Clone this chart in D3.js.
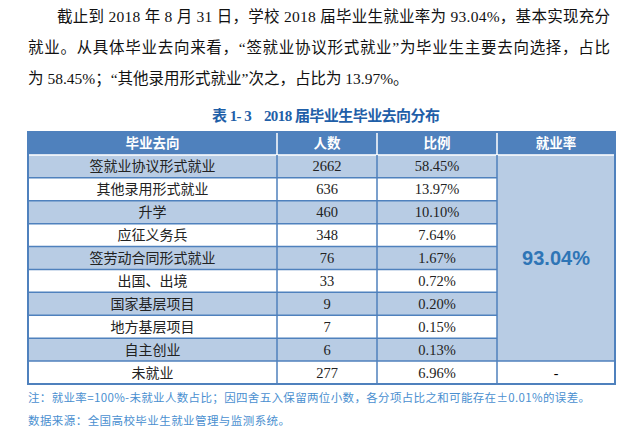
<!DOCTYPE html>
<html lang="zh">
<head>
<meta charset="UTF-8">
<style>
  body { margin: 0; background: #fff; }
  svg { display: block; }
</style>
</head>
<body>
<svg id="svg" width="637" height="434"></svg>
<script src="https://cdn.jsdelivr.net/npm/d3@7"></script>
<script>
const categories = ['签就业协议形式就业', '其他录用形式就业', '升学', '应征义务兵', '签劳动合同形式就业',
  '出国、出境', '国家基层项目', '地方基层项目', '自主创业', '未就业']
const counts = [2662, 636, 460, 348, 76, 33, 9, 7, 6, 277]
const shares = ['58.45%', '13.97%', '10.10%', '7.64%', '1.67%', '0.72%', '0.20%', '0.15%', '0.13%', '6.96%']
const headers = ['毕业去向', '人数', '比例', '就业率']
const employmentRate = '93.04%'

const paragraph = [
  { text: '截止到 2018 年 8 月 31 日，学校 2018 届毕业生就业率为 93.04%，基本实现充分', x: 57, w: 553 },
  { text: '就业。从具体毕业去向来看，“签就业协议形式就业”为毕业生主要去向选择，占比', x: 28, w: 582 },
  { text: '为 58.45%；“其他录用形式就业”次之，占比为 13.97%。', x: 28, w: null }
]

const svg = d3.select('#svg')
const serif = '"Liberation Serif", "Noto Sans CJK SC", serif'
const blue = '#4f81bd'
const light = '#b8cce4'

// intro paragraph
svg.selectAll('text.para').data(paragraph).join('text')
  .attr('class', 'para')
  .attr('x', d => d.x).attr('y', (d, i) => 22 + i * 31)
  .attr('font-family', serif).attr('font-size', 15.5).attr('fill', '#111')
  .attr('textLength', d => d.w).attr('lengthAdjust', 'spacing')
  .text(d => d.text)

svg.append('text').attr('x', 212).attr('y', 121)
  .style('white-space', 'pre')
  .attr('font-family', serif).attr('font-weight', 'bold').attr('font-size', 15)
  .attr('fill', '#1f5fa8').attr('textLength', 228).attr('lengthAdjust', 'spacing')
  .text('表 1- 3    2018 届毕业生毕业去向分布')

// table geometry via scales
const colEdges = [28, 277, 377, 497, 615]
const y = d3.scaleBand().domain(d3.range(categories.length + 1)).range([132, 384])
const rh = y.bandwidth()
const rowFill = i => (i % 2 === 0 && i < 9) ? light : '#fff'

// header
svg.append('rect').attr('x', 28).attr('y', y(0)).attr('width', 587).attr('height', rh).attr('fill', blue)
svg.selectAll('text.hd').data(headers).join('text').attr('class', 'hd')
  .attr('x', (d, i) => (colEdges[i] + colEdges[i + 1]) / 2).attr('y', y(0) + rh / 2 + 5)
  .attr('text-anchor', 'middle').attr('fill', '#fff').attr('font-weight', 'bold')
  .attr('font-size', 13.5).attr('font-family', '"Noto Sans CJK SC"').text(d => d)

const rows = svg.selectAll('g.row').data(categories).join('g').attr('class', 'row')
  .attr('transform', (d, i) => `translate(0,${y(i + 1)})`)
rows.append('rect').attr('x', 28).attr('width', 469).attr('height', rh).attr('fill', (d, i) => rowFill(i))
rows.append('text').attr('x', (colEdges[0] + colEdges[1]) / 2).attr('y', rh / 2 + 5)
  .attr('text-anchor', 'middle').attr('font-family', '"Noto Sans CJK SC"').attr('font-size', 14)
  .attr('fill', '#222').text(d => d)
rows.append('text').attr('x', (colEdges[1] + colEdges[2]) / 2).attr('y', rh / 2 + 5)
  .attr('text-anchor', 'middle').attr('font-family', serif).attr('font-size', 14.5)
  .attr('fill', '#222').text((d, i) => counts[i])
rows.append('text').attr('x', (colEdges[2] + colEdges[3]) / 2).attr('y', rh / 2 + 5)
  .attr('text-anchor', 'middle').attr('font-family', serif).attr('font-size', 14.5)
  .attr('fill', '#222').text((d, i) => shares[i])

// merged employment-rate cell
svg.append('rect').attr('x', 497).attr('y', y(1)).attr('width', 118).attr('height', rh * 9).attr('fill', light)
svg.append('text').attr('x', 556).attr('y', y(1) + rh * 4.5 + 7).attr('text-anchor', 'middle')
  .attr('font-family', '"Liberation Sans", sans-serif').attr('font-weight', 'bold').attr('font-size', 20)
  .attr('fill', '#2e75b6').text(employmentRate)
svg.append('rect').attr('x', 497).attr('y', y(10)).attr('width', 118).attr('height', rh).attr('fill', '#fff')
svg.append('text').attr('x', 556).attr('y', y(10) + rh / 2 + 5).attr('text-anchor', 'middle')
  .attr('font-family', serif).attr('font-size', 14).text('-')

// grid lines
const g = svg.append('g').attr('stroke', blue).attr('fill', 'none')
d3.range(2, categories.length + 1).forEach(i => {
  g.append('line').attr('x1', 28).attr('x2', i <= 9 ? 497 : 615).attr('y1', y(i)).attr('y2', y(i)).attr('stroke-width', 1.5)
})
g.append('line').attr('x1', 28).attr('x2', 615).attr('y1', y(1)).attr('y2', y(1)).attr('stroke', '#fff').attr('stroke-width', 1.5)
colEdges.slice(1, 4).forEach(x => {
  g.append('line').attr('x1', x).attr('x2', x).attr('y1', y(1)).attr('y2', 384).attr('stroke-width', 1.5)
  g.append('line').attr('x1', x).attr('x2', x).attr('y1', y(0)).attr('y2', y(1)).attr('stroke', '#fff').attr('stroke-width', 1.5)
})
g.append('rect').attr('x', 28).attr('y', 132).attr('width', 587).attr('height', 252).attr('stroke-width', 2)

// notes
const noteFont = '"Noto Sans CJK SC", sans-serif'
svg.append('text').attr('x', 28).attr('y', 402).attr('font-family', noteFont).attr('font-size', 11.5)
  .attr('fill', '#4a8fd0').attr('textLength', 562).attr('lengthAdjust', 'spacing')
  .text('注：就业率=100%-未就业人数占比；因四舍五入保留两位小数，各分项占比之和可能存在±0.01%的误差。')
svg.append('text').attr('x', 28).attr('y', 425).attr('font-family', noteFont).attr('font-size', 11.5)
  .attr('fill', '#4a8fd0').attr('textLength', 262).attr('lengthAdjust', 'spacing')
  .text('数据来源：全国高校毕业生就业管理与监测系统。')
</script>
</body>
</html>
